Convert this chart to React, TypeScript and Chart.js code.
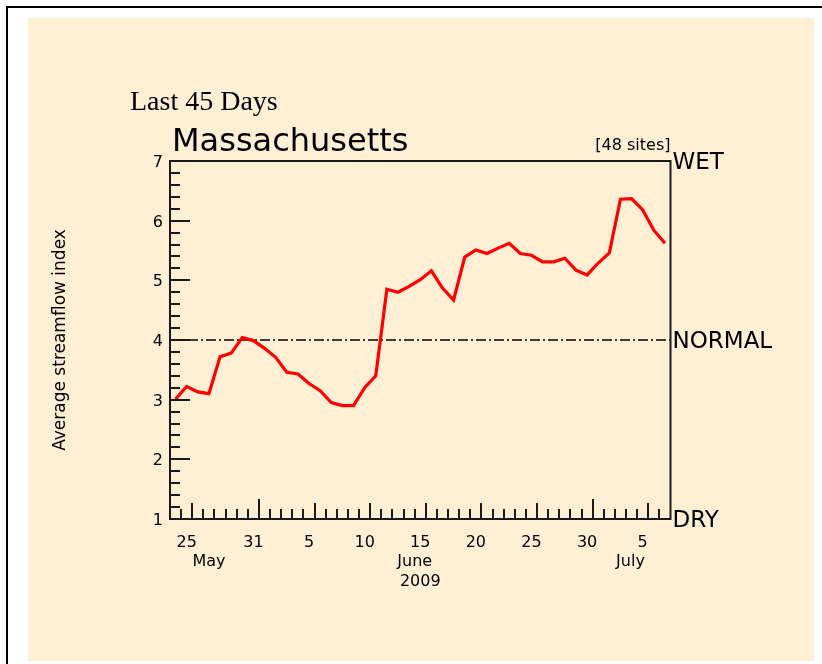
import React, { useEffect, useRef } from "react";
import { Chart, registerables } from "chart.js";

Chart.register(...registerables);

const W = 822;
const H = 664;

// Days shown (last 45 days, 2009)
const days = [
  "May 24", "May 25", "May 26", "May 27", "May 28", "May 29", "May 30", "May 31",
  "Jun 1", "Jun 2", "Jun 3", "Jun 4", "Jun 5", "Jun 6", "Jun 7", "Jun 8", "Jun 9", "Jun 10",
  "Jun 11", "Jun 12", "Jun 13", "Jun 14", "Jun 15", "Jun 16", "Jun 17", "Jun 18", "Jun 19", "Jun 20",
  "Jun 21", "Jun 22", "Jun 23", "Jun 24", "Jun 25", "Jun 26", "Jun 27", "Jun 28", "Jun 29", "Jun 30",
  "Jul 1", "Jul 2", "Jul 3", "Jul 4", "Jul 5", "Jul 6", "Jul 7",
];

// Average streamflow index per day
const streamflowIndex = [
  3.01, 3.22, 3.13, 3.10, 3.72, 3.78, 4.04, 3.99, 3.86, 3.71,
  3.46, 3.43, 3.27, 3.15, 2.95, 2.90, 2.90, 3.20, 3.40, 4.85,
  4.80, 4.90, 5.01, 5.16, 4.87, 4.67, 5.39, 5.51, 5.45, 5.54,
  5.62, 5.45, 5.42, 5.31, 5.31, 5.37, 5.17, 5.09, 5.29, 5.46,
  6.36, 6.37, 6.18, 5.84, 5.62,
];

const normalValue = 4;
const yTickValues = [1, 2, 3, 4, 5, 6, 7];
const labeledDays = ["May 25", "May 31", "Jun 5", "Jun 10", "Jun 15", "Jun 20", "Jun 25", "Jun 30", "Jul 5"];
const monthLabels = ["May", "June", "July"];
const yearLabel = "2009";
const conditionLabels = ["WET", "NORMAL", "DRY"];
const conditionValues = [7, 4, 1];

const subtitleText = "Last 45 Days";
const titleText = "Massachusetts";
const sitesText = "[48 sites]";
const yAxisTitle = "Average streamflow index";

// layout (x-scale positions of month / year captions)
const monthLabelX = [3.5, 22.0, 41.4];
const yearLabelX = 22.5;

const SANS = '"DejaVu Sans", sans-serif';
const SERIF = '"Liberation Serif", "Times New Roman", serif';

const decorPlugin = {
  id: "decor",
  beforeDraw(chart: any) {
    const ctx = chart.ctx as CanvasRenderingContext2D;
    ctx.save();
    ctx.fillStyle = "#ffffff";
    ctx.fillRect(0, 0, W, H);
    ctx.fillStyle = "#000000";
    ctx.fillRect(6, 6, W - 6, 2);
    ctx.fillRect(6, 6, 2, H - 6);
    ctx.fillStyle = "#FFEFD5";
    ctx.fillRect(28, 18, 786, 643);
    ctx.restore();
  },
  afterDraw(chart: any) {
    const ctx = chart.ctx as CanvasRenderingContext2D;
    const a = chart.chartArea;
    const x = chart.scales.x;
    const y = chart.scales.y;
    ctx.save();

    // frame
    ctx.strokeStyle = "#1a1a1a";
    ctx.lineWidth = 2;
    ctx.strokeRect(a.left, a.top, a.right - a.left, a.bottom - a.top);

    // x ticks (day boundaries)
    const labeledIdx = labeledDays.map((d) => days.indexOf(d));
    ctx.lineWidth = 2;
    ctx.beginPath();
    for (let k = 1; k < days.length; k++) {
      const monthChange = days[k].slice(0, 3) !== days[k - 1].slice(0, 3);
      const isLabeledEnd = labeledIdx.includes(k - 1);
      const len = monthChange ? 20 : isLabeledEnd ? 16 : 10;
      const px = Math.round(x.getPixelForValue(k));
      ctx.moveTo(px, a.bottom);
      ctx.lineTo(px, a.bottom - len);
    }
    // y ticks
    for (let t = 1; t < 30; t++) {
      const v = 1 + t * 0.2;
      const isMajor = t % 5 === 0;
      const py = Math.round(y.getPixelForValue(v));
      ctx.moveTo(a.left, py);
      ctx.lineTo(a.left + (isMajor ? 20 : 10), py);
    }
    ctx.stroke();

    ctx.fillStyle = "#000";
    // y tick labels
    ctx.font = `16px ${SANS}`;
    ctx.textAlign = "right";
    ctx.textBaseline = "alphabetic";
    yTickValues.forEach((v) => {
      ctx.fillText(String(v), a.left - 7, y.getPixelForValue(v) + 6);
    });

    // x tick labels
    ctx.textAlign = "center";
    labeledIdx.forEach((i, n) => {
      const label = labeledDays[n].split(" ")[1];
      ctx.fillText(label, x.getPixelForValue(i + 0.5), a.bottom + 27.5);
    });
    monthLabels.forEach((m, n) => {
      ctx.fillText(m, x.getPixelForValue(monthLabelX[n]), a.bottom + 46.5);
    });
    ctx.fillText(yearLabel, x.getPixelForValue(yearLabelX), a.bottom + 66.5);

    // condition labels on right
    ctx.textAlign = "left";
    ctx.font = `23px ${SANS}`;
    conditionLabels.forEach((t, n) => {
      ctx.fillText(t, a.right + 2, y.getPixelForValue(conditionValues[n]) + 8.4);
    });

    // sites
    ctx.font = `16px ${SANS}`;
    ctx.textAlign = "right";
    ctx.fillText(sitesText, a.right, a.top - 11);

    // title
    ctx.textAlign = "left";
    ctx.font = `32px ${SANS}`;
    ctx.fillText(titleText, 172, 151);

    // subtitle
    ctx.font = `28px ${SERIF}`;
    ctx.fillText(subtitleText, 130, 110);

    // y axis title
    ctx.save();
    ctx.translate(65, y.getPixelForValue(normalValue));
    ctx.rotate(-Math.PI / 2);
    ctx.textAlign = "center";
    ctx.font = `17px ${SANS}`;
    ctx.fillText(yAxisTitle, 0, 0);
    ctx.restore();

    ctx.restore();
  },
};

export default function App() {
  const ref = useRef<HTMLCanvasElement | null>(null);
  useEffect(() => {
    document.body.style.margin = "0";
    if (!ref.current) return;
    const chart = new Chart(ref.current, {
      type: "line",
      data: {
        datasets: [
          {
            data: streamflowIndex.map((v, i) => ({ x: i + 0.5, y: v })),
            borderColor: "#ff0000",
            borderWidth: 3.2,
            pointRadius: 0,
            tension: 0,
            fill: false,
            order: 1,
          },
          {
            data: [
              { x: 0, y: normalValue },
              { x: days.length, y: normalValue },
            ],
            borderColor: "#000000",
            borderWidth: 1.5,
            borderDash: [10, 3, 2, 3],
            pointRadius: 0,
            fill: false,
            order: 2,
          },
        ],
      },
      options: {
        responsive: false,
        animation: false,
        devicePixelRatio: 1,
        layout: { padding: { left: 170, right: 151.5, top: 161, bottom: 145 } },
        scales: {
          x: { type: "linear", min: 0, max: days.length, display: false },
          y: { type: "linear", min: 1, max: 7, display: false },
        },
        plugins: { legend: { display: false }, tooltip: { enabled: false } },
      },
      plugins: [decorPlugin],
    } as any);
    return () => chart.destroy();
  }, []);
  return (
    <div style={{ position: "absolute", left: 0, top: 0, width: W, height: H }}>
      <canvas ref={ref} width={W} height={H} style={{ display: "block", width: W, height: H }} />
    </div>
  );
}
